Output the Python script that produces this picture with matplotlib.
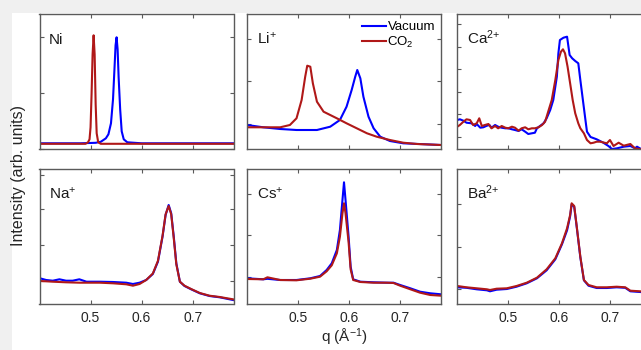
import matplotlib
matplotlib.use("Agg")
import matplotlib.pyplot as plt
from matplotlib.patches import Rectangle

plt.rcParams['font.family'] = ['Liberation Sans', 'DejaVu Sans']
plt.rcParams['mathtext.fontset'] = 'custom'
plt.rcParams['mathtext.rm'] = 'Liberation Sans'
plt.rcParams['mathtext.it'] = 'Liberation Sans:italic'
plt.rcParams['mathtext.bf'] = 'Liberation Sans:bold'

VAC_COLOR = '#0000ff'
CO2_COLOR = '#b01818'
AXIS_COLOR = '#5a5a5a'

# intensities in arb. units
ni_q_vac = [0.400, 0.480, 0.510, 0.520, 0.530, 0.535, 0.540, 0.544, 0.547, 0.549, 0.551, 0.553, 0.555,
            0.558, 0.561, 0.565, 0.572, 0.600, 0.780]
ni_vac = [6, 6, 6.5, 7.5, 11, 15, 26, 50, 82, 104, 112, 100, 72, 40, 18, 10, 7, 6, 6]
ni_q_co2 = [0.400, 0.490, 0.495, 0.498, 0.500, 0.502, 0.504, 0.506, 0.508, 0.510, 0.512, 0.515, 0.520, 0.780]
ni_co2 = [5.5, 5.5, 7, 10, 22, 55, 95, 114, 95, 45, 16, 7, 5.5, 5.5]

li_q_vac = [0.400, 0.432, 0.465, 0.497, 0.537, 0.563, 0.582, 0.595, 0.605, 0.612, 0.616, 0.622, 0.628,
            0.638, 0.648, 0.661, 0.680, 0.706, 0.780]
li_vac = [24.3, 22, 20.3, 19.3, 19.3, 22.6, 29.3, 42.6, 59.3, 72.6, 79.3, 71, 52.6, 32.6, 21, 12.6, 8.3, 6, 4.3]
li_q_co2 = [0.400, 0.465, 0.484, 0.497, 0.507, 0.514, 0.518, 0.524, 0.529, 0.537, 0.550, 0.576, 0.595,
            0.615, 0.635, 0.654, 0.680, 0.706, 0.733, 0.780]
li_co2 = [22, 22, 24.3, 31, 49.3, 72.6, 83.6, 82.6, 66, 47.6, 37.6, 31, 26, 21, 16, 12.6, 9.3, 6.6, 5.3, 4.3]

ca_q_vac = [0.400, 0.405, 0.412, 0.418, 0.428, 0.435, 0.438, 0.445, 0.451, 0.458, 0.463, 0.467, 0.474,
            0.480, 0.487, 0.494, 0.500, 0.507, 0.513, 0.520, 0.526, 0.533, 0.539, 0.546, 0.552, 0.556,
            0.562, 0.569, 0.575, 0.582, 0.588, 0.595, 0.598, 0.601, 0.608, 0.615, 0.620, 0.625, 0.631,
            0.637, 0.641, 0.646, 0.651, 0.654, 0.661, 0.673, 0.686, 0.696, 0.703, 0.713, 0.726, 0.739,
            0.748, 0.752, 0.760, 0.770, 0.780]
ca_vac = [29.3, 30, 28.6, 26.6, 26, 23.3, 25.3, 21.6, 22, 23.6, 24.3, 21.6, 24.3, 22.6, 21.6, 21, 21, 20,
          19.3, 18.3, 20, 17.6, 15.3, 16, 16.6, 21, 23.3, 26, 31, 39.3, 49.3, 72.6, 96, 109.3, 111.6,
          112.6, 94.3, 91, 88.3, 86, 69.3, 49.3, 29.3, 17.6, 12.3, 10, 6.6, 3.3, 0.3, 1, 2.6, 3.3, 1,
          2.6, 0.3, 1, 0.5]
ca_q_co2 = [0.400, 0.405, 0.412, 0.418, 0.425, 0.431, 0.438, 0.443, 0.448, 0.454, 0.461, 0.467, 0.474,
            0.480, 0.487, 0.494, 0.500, 0.507, 0.513, 0.520, 0.526, 0.533, 0.539, 0.546, 0.552, 0.559,
            0.566, 0.572, 0.578, 0.585, 0.592, 0.598, 0.603, 0.607, 0.611, 0.616, 0.621, 0.626, 0.631,
            0.637, 0.641, 0.648, 0.654, 0.661, 0.667, 0.673, 0.680, 0.693, 0.699, 0.706, 0.716, 0.726,
            0.739, 0.748, 0.760, 0.780]
ca_co2 = [22.6, 24.3, 27.6, 30, 29.3, 24.3, 26, 31, 23.3, 24.3, 25.3, 21, 23.3, 21, 23.3, 21.6, 21, 22.6,
          21.6, 18.6, 21, 22, 20, 21, 21, 22, 24.3, 27.6, 37.6, 49.3, 69.3, 89.3, 97.6, 100, 96, 82.6,
          66, 49.3, 36, 26, 21, 16, 9.3, 6, 6.6, 7.6, 7.6, 6, 9.3, 3.3, 6.6, 3.6, 5.3, 1, 0, 0]

na_q = [0.401, 0.413, 0.426, 0.439, 0.452, 0.465, 0.478, 0.492, 0.518, 0.544, 0.570, 0.583, 0.596, 0.609,
        0.622, 0.632, 0.641, 0.647, 0.653, 0.658, 0.663, 0.668, 0.675, 0.684, 0.697, 0.714, 0.733, 0.753, 0.779]
na_vac = [26, 24.3, 23.6, 25, 23.6, 23.6, 25, 22.6, 22.6, 22.3, 21.6, 20.3, 21.6, 24.3, 30.3, 42.6, 67.6,
          89.3, 99.3, 91, 67.6, 41, 22.6, 18.3, 15, 11, 8.3, 7, 4.3]
na_co2 = [23.3, 23, 22.6, 22.3, 22, 21.8, 21.6, 21.6, 21.6, 21, 20, 18.6, 20.3, 24.3, 30.8, 43.5, 68.5,
          90, 98.3, 90, 66, 40, 22.6, 18.6, 15.3, 11.3, 8.6, 7.3, 5]

cs_q = [0.400, 0.432, 0.440, 0.465, 0.497, 0.524, 0.543, 0.556, 0.566, 0.576, 0.582, 0.587, 0.590, 0.593,
        0.599, 0.603, 0.608, 0.622, 0.648, 0.674, 0.687, 0.700, 0.720, 0.739, 0.759, 0.780]
cs_vac = [26, 25, 25.5, 24.3, 24.3, 26, 28.3, 34.3, 41, 54.3, 74.3, 104.3, 122, 104.3, 67.6, 37.6, 25,
          22.6, 22, 21.6, 21.6, 19.3, 16, 12.6, 11, 10]
cs_co2 = [25.3, 25, 27, 24.3, 24, 25.6, 27.6, 33, 39, 51, 67.6, 91, 101, 91, 62, 35, 24.3, 22.3, 21.6,
          21.6, 21.3, 18.6, 15, 11.6, 9.3, 8.6]

ba_q = [0.400, 0.418, 0.438, 0.458, 0.464, 0.477, 0.497, 0.516, 0.536, 0.556, 0.575, 0.592, 0.605, 0.615,
        0.621, 0.624, 0.629, 0.634, 0.641, 0.648, 0.657, 0.673, 0.693, 0.712, 0.729, 0.739, 0.758, 0.780]
ba_vac = [17, 16.5, 15, 14, 13, 14.6, 15.3, 17.6, 21, 26, 34, 45, 60, 74, 88, 100, 97.6, 77, 47, 24, 18.6,
          16.3, 16.3, 17, 16.5, 13, 12.3, 11.5]
ba_co2 = [18.3, 17, 16, 15, 14.3, 15.6, 16, 18.3, 21.6, 26.6, 35, 46, 61, 76, 89.3, 101, 98.3, 77.6, 47.6,
          24.3, 19.3, 17, 17, 17.6, 17, 13.6, 13, 12]

ion_labels = ['Ni', 'Li$^{{+}}$', 'Ca$^{2{+}}$', 'Na$^{{+}}$', 'Cs$^{{+}}$', 'Ba$^{2{+}}$']
q_ticks = [0.5, 0.6, 0.7]
y_ticks = [[0, 56, 112.6], [25, 68, 110.6], [12.3, 35, 57.3, 80, 102.6, 125],
           [23.3, 59.3, 95, 129.3], [27.6, 69.3, 110.6], [15.3, 57.6, 100]]

panels = [
    (ni_q_vac, ni_vac, ni_q_co2, ni_co2),
    (li_q_vac, li_vac, li_q_co2, li_co2),
    (ca_q_vac, ca_vac, ca_q_co2, ca_co2),
    (na_q, na_vac, na_q, na_co2),
    (cs_q, cs_vac, cs_q, cs_co2),
    (ba_q, ba_vac, ba_q, ba_co2),
]

W, H = 641, 350
fig = plt.figure(figsize=(W / 100, H / 100), dpi=100, facecolor='#f0f0f0')
fig.patches.append(Rectangle((11.5 / W, 0), 1, 1 - 12.7 / H, transform=fig.transFigure,
                             facecolor='white', edgecolor='none', zorder=-1))

lefts = [39.5, 247, 457.3]
bottoms = [149.3, 304.3]
ax_w, ax_h = 194, 135.3

for i, (qv, iv, qc, ic) in enumerate(panels):
    row, col = divmod(i, 3)
    ax = fig.add_axes([lefts[col] / W, 1 - bottoms[row] / H, ax_w / W, ax_h / H])
    ax.plot(qv, iv, color=VAC_COLOR, lw=1.5, label='Vacuum')
    ax.plot(qc, ic, color=CO2_COLOR, lw=1.5, label='CO$_2$')
    ax.set_xlim(0.4, 0.78)
    ax.set_ylim(0, ax_h)
    ax.set_xticks(q_ticks)
    ax.set_yticks(y_ticks[i])
    ax.tick_params(direction='in', length=3, width=0.8, top=True, right=True, color=AXIS_COLOR,
                   labelcolor='#262626', labelsize=10, labelleft=False, labelbottom=(row == 1), pad=5)
    for sp in ax.spines.values():
        sp.set_color(AXIS_COLOR)
        sp.set_linewidth(1.0)
    ax.text(0.05, 0.778, ion_labels[i], transform=ax.transAxes, fontsize=11, color='#1a1a1a',
            ha='left', va='baseline')
    if i == 1:
        ax.legend(loc='upper right', bbox_to_anchor=(0.969, 0.948), frameon=False, fontsize=9.5,
                  handlelength=1.8, handletextpad=0.1, labelspacing=0.1, borderpad=0, borderaxespad=0)

fig.text(18.5 / W, 1 - 175.8 / H, 'Intensity (arb. units)', rotation=90, ha='center', va='center',
         fontsize=11.5, color='#262626')
fig.text(344 / W, 1.5 / H, 'q (Å$^{-1}$)', ha='center', va='bottom', fontsize=11, color='#262626')

fig.savefig('out.png', dpi=100)
